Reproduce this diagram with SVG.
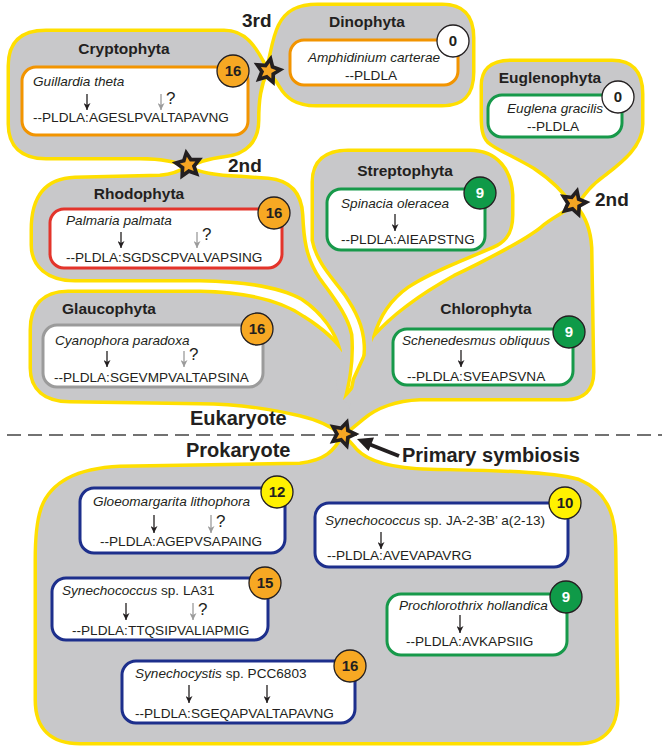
<svg xmlns="http://www.w3.org/2000/svg" xmlns:xlink="http://www.w3.org/1999/xlink" width="668" height="754" viewBox="0 0 668 754">
<style>
text{font-family:'Liberation Sans',Arial,sans-serif;fill:#231f20}
.ls{fill:none;stroke:#ffdf00;stroke-width:7;stroke-linejoin:round}
.lf{fill:#c8c8ca;stroke:none}
.box{fill:#fff;stroke-width:3}
.or{stroke:#f29400}.rd{stroke:#e3342b}.gy{stroke:#9b9b9b}.gn{stroke:#17994a}.nv{stroke:#1d2f8c}
.title{font-weight:bold;font-size:15.5px;text-anchor:middle}
.sp{font-style:italic;font-size:13.6px}
.sq{font-size:13.6px}
.q{font-size:17px}
.c{text-anchor:middle}
.bc{stroke:#231f20;stroke-width:1.3}
.bt{font-weight:bold;font-size:15px;text-anchor:middle}
.big{font-weight:bold;font-size:20px}
.ord{font-weight:bold;font-size:19px}
.ab{stroke:#231f20;stroke-width:1.3;marker-end:url(#ah)}
.ag{stroke:#9b9b9b;stroke-width:1.3;marker-end:url(#ahg)}
</style>
<defs>
<marker id="ah" viewBox="0 0 10 10" refX="10" refY="5" markerWidth="7" markerHeight="7" markerUnits="userSpaceOnUse" orient="auto"><path d="M0,0 L10,5 L0,10 L3,5 Z" fill="#231f20"/></marker>
<marker id="ahg" viewBox="0 0 10 10" refX="10" refY="5" markerWidth="7" markerHeight="7" markerUnits="userSpaceOnUse" orient="auto"><path d="M0,0 L10,5 L0,10 L3,5 Z" fill="#9b9b9b"/></marker>
<g id="star"><path d="M0,-15 L4.4,-6 L14.3,-4.6 L7.1,2.3 L8.8,12.1 L0,7.5 L-8.8,12.1 L-7.1,2.3 L-14.3,-4.6 L-4.4,-6 Z" fill="#231f20"/><path d="M0,-7.5 L2.1,-2.9 L7.1,-2.3 L3.4,1.1 L4.4,6.1 L0,3.6 L-4.4,6.1 L-3.4,1.1 L-7.1,-2.3 L-2.1,-2.9 Z" fill="#f6a623"/></g>
<path id="pCr" d="M10,66 C10,43 22,32 46,32 L224,32 C244,32 254,46 266,70 C259,86 257,100 257,120 C257,141 245,153 224,155 C209,157 197,160 188,166 C176,159 160,157 140,157 L46,157 C22,157 10,145 10,124 Z"/>
<path id="pDi" d="M268,70 C272,56 274,38 280,26 C287,12 298,6 318,6 L442,6 C462,6 472,16 472,38 L472,72 C472,95 462,104 442,104 L316,104 C296,104 287,96 281,86 C277,79 273,74 268,70 Z"/>
<path id="pEu" d="M483,86 C483,69 493,62 512,62 L612,62 C632,62 641,73 641,94 L641,124 C641,145 622,160 604,174 C590,184 581,195 575,206 C566,192 553,179 535,167 C515,155 497,148 489,141 C484,136 483,128 483,116 Z"/>
<path id="pSt" d="M314,240 L314,182 C314,162 326,152 348,152 L470,152 C497,152 510,172 511,195 L511,215 C511,230 506,239 496,244 C470,256 430,270 407,286 C390,298 378,315 372,337 L374,376 L352,422 L336,412 L343,400 C360,385 367,365 366,345 C365,325 357,310 347,295 C335,278 318,262 314,240 Z"/>
<path id="pRh" d="M33,230 C33,199 45,180 75,179 L160,177 C172,176 182,172 188,168 C196,173 212,177 240,178 L268,180 C290,182 300,195 301,215 C302,238 304,258 318,279 C330,296 346,315 350,335 C352,360 348,382 343,400 L332,418 L330,385 L342,351 C338,333 324,312 303,298 C282,286 250,280 200,279 L75,279 C48,279 33,265 33,245 Z"/>
<path id="pGl" d="M32,330 C32,306 44,293 68,293 L200,293 C250,294 283,304 303,318 C322,330 336,343 343,354 L336,385 L343,400 L360,416 L344,434 C334,426 318,418 300,414 C270,407 235,402 200,402 L70,400 C45,400 32,388 32,368 Z"/>
<path id="pCh" d="M575,207 C582,215 589,228 590,248 L592,372 C592,389 583,398 565,398 L420,398 C396,399 376,406 362,418 L345,432 L355,380 L374,338 C390,320 415,299 455,277 C490,260 530,240 545,226 C556,218 567,212 575,207 Z"/>
<path id="pPr" d="M343,437 C336,452 325,462 300,465 L120,468 C76,470 52,484 43,508 C38,522 37,540 37,560 L37,700 C37,728 52,742 80,742 L578,742 C603,742 616,728 616,700 L614,548 C614,512 604,492 578,481 C545,472 470,472 430,471 C390,470 366,462 355,450 C350,444 346,440 343,437 Z"/>
</defs>
<rect width="668" height="754" fill="#fff"/>
<g id="region-outlines" class="ls">
<use xlink:href="#pCr"/><use xlink:href="#pDi"/><use xlink:href="#pEu"/><use xlink:href="#pSt"/><use xlink:href="#pRh"/><use xlink:href="#pGl"/><use xlink:href="#pCh"/><use xlink:href="#pPr"/>
</g>
<g id="region-fills" class="lf">
<use xlink:href="#pCr"/><use xlink:href="#pDi"/><use xlink:href="#pEu"/><use xlink:href="#pSt"/><use xlink:href="#pRh"/><use xlink:href="#pGl"/><use xlink:href="#pCh"/><use xlink:href="#pPr"/>
</g>
<line x1="7" y1="435" x2="662" y2="435" stroke="#444" stroke-width="1.3" stroke-dasharray="14 7"/>
<g id="labels">
<text class="big" x="190" y="425">Eukaryote</text>
<text class="big" x="186" y="457">Prokaryote</text>
<text class="big" x="402" y="462">Primary symbiosis</text>
<text class="ord" x="242" y="27">3rd</text>
<text class="ord" x="228" y="172">2nd</text>
<text class="ord" x="595" y="206">2nd</text>
</g>
<g id="cryptophyta">
<text class="title" x="124" y="54">Cryptophyta</text>
<rect class="box or" x="22" y="67" width="226" height="68" rx="14"/>
<text class="sp" x="33" y="86">Guillardia theta</text>
<line class="ab" x1="87" y1="94" x2="87" y2="110"/>
<line class="ag" x1="161" y1="94" x2="161" y2="110"/>
<text class="q" x="166" y="104">?</text>
<text class="sq" x="33" y="122">--PLDLA:AGESLPVALTAPAVNG</text>
<circle class="bc" cx="233" cy="71" r="16" fill="#f7a823"/><text class="bt" x="233" y="76">16</text>
</g>
<g id="dinophyta">
<text class="title" x="367" y="27">Dinophyta</text>
<rect class="box or" x="290" y="40" width="168" height="45" rx="14"/>
<text class="sp c" x="374" y="62">Amphidinium carterae</text>
<text class="sq c" x="371" y="80">--PLDLA</text>
<circle class="bc" cx="453" cy="41" r="16" fill="#fff"/><text class="bt" x="453" y="46">0</text>
</g>
<g id="euglenophyta">
<text class="title" x="550" y="83">Euglenophyta</text>
<rect class="box gn" x="488" y="95" width="134" height="42" rx="14"/>
<text class="sp c" x="555" y="113">Euglena gracilis</text>
<text class="sq c" x="553" y="131">--PLDLA</text>
<circle class="bc" cx="618" cy="97" r="16" fill="#fff"/><text class="bt" x="618" y="102">0</text>
</g>
<g id="rhodophyta">
<text class="title" x="139" y="199">Rhodophyta</text>
<rect class="box rd" x="50" y="209" width="232" height="59" rx="14"/>
<text class="sp" x="66" y="225">Palmaria palmata</text>
<line class="ab" x1="121" y1="232" x2="121" y2="248"/>
<line class="ag" x1="197" y1="232" x2="197" y2="248"/>
<text class="q" x="202" y="240">?</text>
<text class="sq" x="66" y="262">--PLDLA:SGDSCPVALVAPSING</text>
<circle class="bc" cx="274" cy="213" r="16" fill="#f7a823"/><text class="bt" x="274" y="218">16</text>
</g>
<g id="glaucophyta">
<text class="title" x="109" y="314">Glaucophyta</text>
<rect class="box gy" x="43" y="325" width="220" height="62" rx="14"/>
<text class="sp" x="55" y="345">Cyanophora paradoxa</text>
<line class="ab" x1="107" y1="351" x2="107" y2="367"/>
<line class="ag" x1="184" y1="351" x2="184" y2="367"/>
<text class="q" x="189" y="360">?</text>
<text class="sq" x="54" y="382">--PLDLA:SGEVMPVALTAPSINA</text>
<circle class="bc" cx="257" cy="329" r="16" fill="#f7a823"/><text class="bt" x="257" y="334">16</text>
</g>
<g id="streptophyta">
<text class="title" x="405" y="176">Streptophyta</text>
<rect class="box gn" x="327" y="189" width="158" height="61" rx="14"/>
<text class="sp" x="341" y="208">Spinacia oleracea</text>
<line class="ab" x1="395" y1="214" x2="395" y2="231"/>
<text class="sq" x="341" y="244">--PLDLA:AIEAPSTNG</text>
<circle class="bc" cx="480" cy="193" r="16" fill="#0f9a48"/><text class="bt" x="480" y="198" style="fill:#fff">9</text>
</g>
<g id="chlorophyta">
<text class="title" x="486" y="314">Chlorophyta</text>
<rect class="box gn" x="393" y="329" width="180" height="56" rx="14"/>
<text class="sp" x="402" y="345">Schenedesmus obliquus</text>
<line class="ab" x1="461" y1="350" x2="461" y2="367"/>
<text class="sq" x="407" y="381">--PLDLA:SVEAPSVNA</text>
<circle class="bc" cx="569" cy="332" r="16" fill="#0f9a48"/><text class="bt" x="569" y="337" style="fill:#fff">9</text>
</g>
<g id="gloeomargarita">
<rect class="box nv" x="80" y="488" width="205" height="65" rx="14"/>
<text class="sp" x="93" y="506">Gloeomargarita lithophora</text>
<line class="ab" x1="154" y1="515" x2="154" y2="533"/>
<line class="ag" x1="211" y1="515" x2="211" y2="533"/>
<text class="q" x="216" y="527">?</text>
<text class="sq" x="100" y="546">--PLDLA:AGEPVSAPAING</text>
<circle class="bc" cx="277" cy="492" r="16" fill="#fff100"/><text class="bt" x="277" y="497">12</text>
</g>
<g id="synechococcus-la31">
<rect class="box nv" x="52" y="578" width="216" height="62" rx="14"/>
<text class="sq" x="62" y="595"><tspan font-style="italic">Synechococcus</tspan> sp. LA31</text>
<line class="ab" x1="126" y1="603" x2="126" y2="620"/>
<line class="ag" x1="193" y1="603" x2="193" y2="620"/>
<text class="q" x="198" y="615">?</text>
<text class="sq" x="72" y="635">--PLDLA:TTQSIPVALIAPMIG</text>
<circle class="bc" cx="265" cy="583" r="16" fill="#f7a823"/><text class="bt" x="265" y="588">15</text>
</g>
<g id="synechocystis">
<rect class="box nv" x="122" y="661" width="233" height="62" rx="14"/>
<text class="sq" x="135" y="678"><tspan font-style="italic">Synechocystis</tspan> sp. PCC6803</text>
<line class="ab" x1="189" y1="685" x2="189" y2="703"/>
<line class="ab" x1="267" y1="685" x2="267" y2="703"/>
<text class="sq" x="135" y="718">--PLDLA:SGEQAPVALTAPAVNG</text>
<circle class="bc" cx="350" cy="666" r="16" fill="#f7a823"/><text class="bt" x="350" y="671">16</text>
</g>
<g id="synechococcus-ja">
<rect class="box nv" x="315" y="503" width="253" height="64" rx="14"/>
<text class="sq" x="325" y="525"><tspan font-style="italic">Synechococcus</tspan> sp. JA-2-3B’  a(2-13)</text>
<line class="ab" x1="381" y1="532" x2="381" y2="549"/>
<text class="sq" x="327" y="560">--PLDLA:AVEVAPAVRG</text>
<circle class="bc" cx="565" cy="503" r="16" fill="#fff100"/><text class="bt" x="565" y="508">10</text>
</g>
<g id="prochlorothrix">
<rect class="box gn" x="387" y="594" width="180" height="61" rx="14"/>
<text class="sp" x="399" y="610">Prochlorothrix hollandica</text>
<line class="ab" x1="460" y1="615" x2="460" y2="633"/>
<text class="sq" x="406" y="646">--PLDLA:AVKAPSIIG</text>
<circle class="bc" cx="566" cy="597" r="16" fill="#0f9a48"/><text class="bt" x="566" y="602" style="fill:#fff">9</text>
</g>
<g id="stars">
<use xlink:href="#star" transform="translate(268,71) rotate(12) scale(1.1)"/>
<use xlink:href="#star" transform="translate(188,165) rotate(-8) scale(1.1)"/>
<use xlink:href="#star" transform="translate(574,203) rotate(14) scale(1.1)"/>
<use xlink:href="#star" transform="translate(343,434) rotate(18) scale(1.1)"/>
</g>
<g id="connectors">
<line x1="399" y1="456" x2="370" y2="444.5" stroke="#231f20" stroke-width="4"/>
<polygon points="357,439 374,437.5 368.5,451" fill="#231f20"/>
</g>
</svg>
